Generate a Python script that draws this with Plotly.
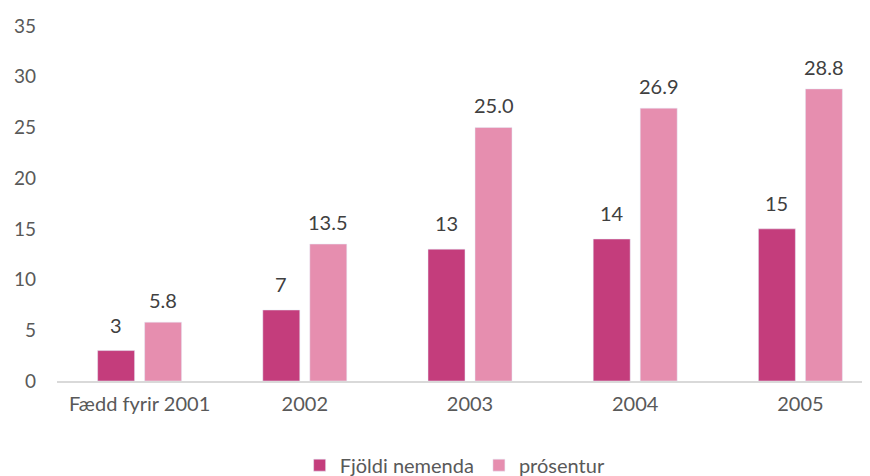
import plotly.graph_objects as go

categories = ["Fædd fyrir 2001", "2002", "2003", "2004", "2005"]
fjoldi = [3, 7, 13, 14, 15]
prosentur = [5.8, 13.5, 25.0, 26.9, 28.8]

font_col = "#595959"
lab_col = "#404040"

fig = go.Figure()
fig.add_trace(go.Bar(
    x=categories, y=fjoldi, name="Fjöldi nemenda",
    marker=dict(color="#C43D7C"),
))
fig.add_trace(go.Bar(
    x=categories, y=prosentur, name="prósentur",
    marker=dict(color="#E68EAF"),
))

# data labels sitting a bit above each bar
# (category index used for x, since labels like "2002" would be read as an index)
for i, v in enumerate(fjoldi):
    fig.add_annotation(x=i, y=v, text=f"{v:.0f}", xshift=-23.5, yshift=12,
                       yanchor="bottom", showarrow=False,
                       font=dict(size=20, color=lab_col))
for i, v in enumerate(prosentur):
    fig.add_annotation(x=i, y=v, text=f"{v:.1f}", xshift=23.5, yshift=8,
                       yanchor="bottom", showarrow=False,
                       font=dict(size=20, color=lab_col))

# page body adds 8px offset, so margins are shifted to compensate;
# the original chart runs past the right edge, hence the extra width
fig.update_layout(
    width=880, height=476,
    barmode="group", bargap=0.431, bargroupgap=0.213,
    plot_bgcolor="white", paper_bgcolor="white",
    font=dict(family="Lato, sans-serif", size=19, color=font_col),
    margin=dict(l=49, r=5, t=18, b=103, autoexpand=False),
    showlegend=True,
    legend=dict(orientation="h", x=0.482, xanchor="center", y=-0.237, yanchor="middle",
                font=dict(size=20, color=font_col), traceorder="normal",
                itemwidth=30),
    xaxis=dict(type="category", showline=True, linecolor="#D9D9D9", linewidth=2,
               ticks="", tickfont=dict(size=20), ticklabelstandoff=4,
               automargin=False),
    yaxis=dict(range=[0, 35], dtick=5, showgrid=False, zeroline=False,
               showline=False, tickfont=dict(size=19), ticklabelstandoff=20,
               automargin=False),
)

fig.write_html("out.html")
